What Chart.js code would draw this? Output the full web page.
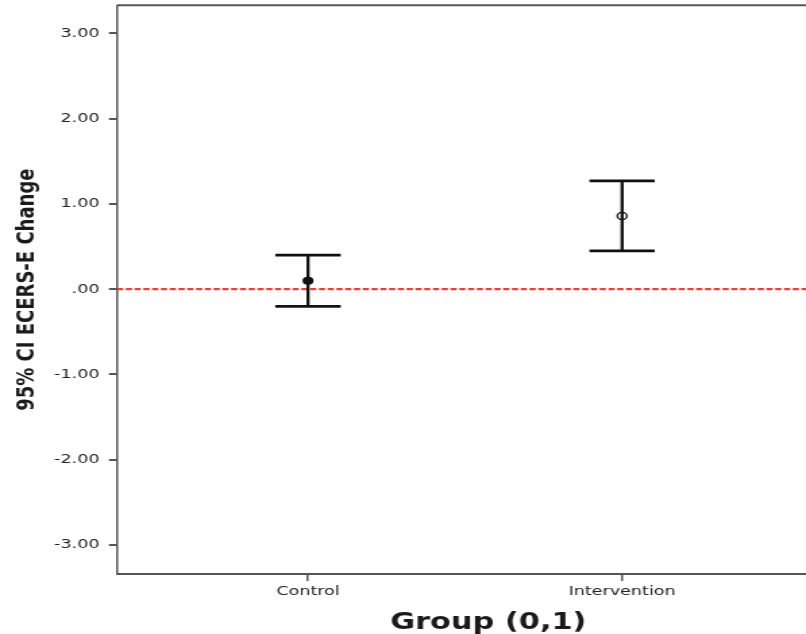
<!DOCTYPE html>
<html>
<head>
<meta charset="utf-8">
<title>95% CI ECERS-E Change by Group</title>
<script src="https://cdn.jsdelivr.net/npm/chart.js@4/dist/chart.umd.min.js"></script>
<style>
  html, body { margin: 0; padding: 0; background: #fff; overflow: hidden; }
  #frame { width: 806px; height: 634px; overflow: hidden; position: relative; }
  /* the chart is drawn narrow and widened horizontally, giving the wide lettering */
  #stretch { width: 642px; height: 634px; transform: scaleX(1.35); transform-origin: 0 0; }
  canvas { display: block; }
</style>
</head>
<body>
<div id="frame"><div id="stretch"><canvas id="c" width="642" height="634"></canvas></div></div>
<script>
// Groups on the x axis (coded 0 / 1)
const groups = ['Control', 'Intervention'];
const groupCodes = [0, 1];

// Mean change and 95% confidence interval for each group
const meanChange = [0.10, 0.86];
const ciLower = [-0.20, 0.45];
const ciUpper = [0.40, 1.27];

// Y axis ticks
const yTickValues = [-3, -2, -1, 0, 1, 2, 3];

// Reference line value (no change)
const referenceValue = 0;

// Axis ranges
const X_MIN = -0.608, X_MAX = 1.756;
const Y_MIN = -3.34, Y_MAX = 3.33;
const CAP_HALF = 0.104;

const AXIS_COLOR = '#555555';
const TEXT_COLOR = '#222222';
const BAR_COLOR = '#111111';

function fmtTick(v) {
  const s = Math.abs(v).toFixed(2);
  if (v === 0) return '.00';
  return (v < 0 ? '-' : '') + s;
}

// Error bars: a vertical stem plus two caps for each group
const errorBarSets = [];
groupCodes.forEach((g, i) => {
  errorBarSets.push({
    type: 'line',
    data: [{ x: g, y: ciLower[i] }, { x: g, y: ciUpper[i] }],
    borderColor: BAR_COLOR, borderWidth: 2.3, pointRadius: 0, fill: false
  });
  [ciLower[i], ciUpper[i]].forEach(v => {
    errorBarSets.push({
      type: 'line',
      data: [{ x: g - CAP_HALF, y: v }, { x: g + CAP_HALF, y: v }],
      borderColor: BAR_COLOR, borderWidth: 2.7, pointRadius: 0, fill: false
    });
  });
});

// Mean markers (drawn first in the list so they sit on top)
const meanSets = groupCodes.map((g, i) => ({
  type: 'scatter',
  data: [{ x: g, y: meanChange[i] }],
  pointStyle: 'circle',
  pointRadius: i === 0 ? 3.4 : 3.6,
  pointBorderWidth: 1.3,
  pointBorderColor: BAR_COLOR,
  pointBackgroundColor: i === 0 ? BAR_COLOR : 'rgba(0,0,0,0)'
}));

const referenceSet = {
  type: 'line',
  data: [{ x: X_MIN, y: referenceValue }, { x: X_MAX, y: referenceValue }],
  borderColor: '#e5403f', borderWidth: 2.2, borderDash: [4.6, 1.9],
  pointRadius: 0, fill: false
};

// Top frame line of the plot area
const frameTop = {
  id: 'frameTop',
  afterDraw(chart) {
    const { ctx, chartArea: a } = chart;
    ctx.save();
    ctx.strokeStyle = AXIS_COLOR;
    ctx.lineWidth = 2;
    ctx.beginPath();
    ctx.moveTo(a.left, a.top);
    ctx.lineTo(a.right, a.top);
    ctx.stroke();
    ctx.restore();
  }
};

new Chart(document.getElementById('c'), {
  type: 'scatter',
  data: { datasets: [...meanSets, ...errorBarSets, referenceSet] },
  plugins: [frameTop],
  options: {
    responsive: false,
    animation: false,
    devicePixelRatio: 1,
    layout: { padding: { top: 5, left: 0, right: 0, bottom: 0 } },
    plugins: { legend: { display: false }, tooltip: { enabled: false } },
    scales: {
      x: {
        type: 'linear',
        min: X_MIN, max: X_MAX,
        afterBuildTicks: s => { s.ticks = groupCodes.map(v => ({ value: v })); },
        afterFit: s => { s.height = 60; s.paddingLeft = 0; s.paddingRight = 0; },
        ticks: {
          autoSkip: false, maxRotation: 0, padding: 3,
          color: TEXT_COLOR,
          font: { family: 'DejaVu Sans', size: 13 },
          callback: v => groups[groupCodes.indexOf(v)]
        },
        grid: { drawOnChartArea: false, drawTicks: true, tickLength: 7, color: AXIS_COLOR, lineWidth: 1.5 },
        border: { display: true, color: AXIS_COLOR, width: 2 },
        title: {
          display: true, text: 'Group (0,1)', color: '#1a1a1a',
          font: { family: 'DejaVu Sans', size: 22.5, weight: 'bold' },
          padding: { top: 0, bottom: -3 }
        }
      },
      y: {
        type: 'linear',
        min: Y_MIN, max: Y_MAX,
        afterBuildTicks: s => { s.ticks = yTickValues.map(v => ({ value: v })); },
        afterFit: s => { s.width = 86.7; s.paddingTop = 0; s.paddingBottom = 0; },
        ticks: {
          padding: 7, color: TEXT_COLOR,
          font: { family: 'DejaVu Sans', size: 13 },
          callback: v => fmtTick(v)
        },
        grid: { drawOnChartArea: false, drawTicks: true, tickLength: 6, color: AXIS_COLOR, lineWidth: 2 },
        border: { display: true, color: AXIS_COLOR, width: 1.5 },
        title: {
          display: true, text: '95% CI ECERS-E Change', color: '#1a1a1a',
          font: { family: 'DejaVu Sans', size: 18, weight: 'bold' },
          padding: { top: 10, bottom: 0 }
        }
      }
    }
  }
});
</script>
</body>
</html>
